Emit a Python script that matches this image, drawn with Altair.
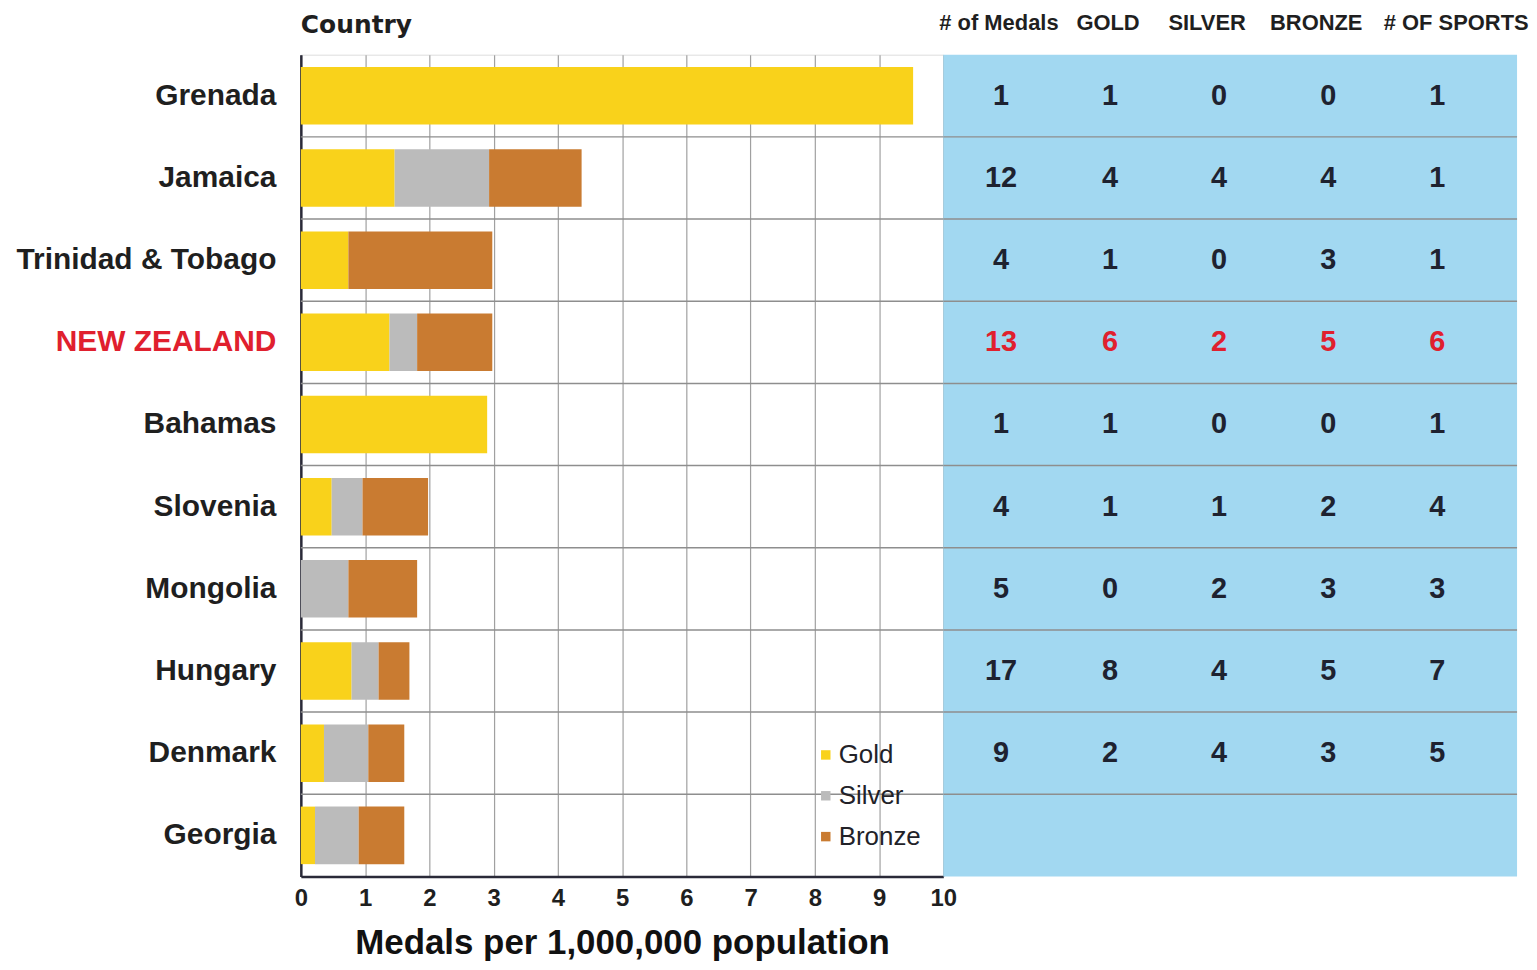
import altair as alt
import pandas as pd

# ---------------- data ----------------
countries = ["Grenada", "Jamaica", "Trinidad & Tobago", "NEW ZEALAND", "Bahamas",
             "Slovenia", "Mongolia", "Hungary", "Denmark", "Georgia"]
gold_rate = [9.53, 1.46, 0.74, 1.38, 2.90, 0.48, 0.00, 0.79, 0.36, 0.22]
silver_rate = [0.00, 1.47, 0.00, 0.43, 0.00, 0.48, 0.74, 0.42, 0.69, 0.68]
bronze_rate = [0.00, 1.44, 2.24, 1.17, 0.00, 1.02, 1.07, 0.48, 0.56, 0.71]
medals = ["Gold", "Silver", "Bronze"]
x_ticks = [0, 1, 2, 3, 4, 5, 6, 7, 8, 9, 10]

table_countries = countries[:9]
table_headers = ["# of Medals", "GOLD", "SILVER", "BRONZE", "# OF SPORTS"]
n_medals = [1, 12, 4, 13, 1, 4, 5, 17, 9]
n_gold = [1, 4, 1, 6, 1, 1, 0, 8, 2]
n_silver = [0, 4, 0, 2, 0, 1, 2, 4, 4]
n_bronze = [0, 4, 3, 5, 0, 2, 3, 5, 3]
n_sports = [1, 1, 1, 6, 1, 4, 3, 7, 5]

# ---------------- styles ----------------
medal_colors = ["#F9D21B", "#BBBBBB", "#C97B31"]
blue = "#A2D8F1"
nz_red = "#E0202E"
dark = "#1E2230"
sep_gray = "#8E8E8E"
grid_gray = "#A0A0A0"
regular = '"Liberation Sans", Arial, sans-serif'

# ---------------- tables ----------------
bar_rows = []
for i, c in enumerate(countries):
    for j, vals in enumerate([gold_rate, silver_rate, bronze_rate]):
        bar_rows.append({"country": c, "medal": medals[j], "rate": vals[i], "order": j})
bars_df = pd.DataFrame(bar_rows)

sep_df = pd.DataFrame({"country": countries[1:]})

tab_rows = []
for i, c in enumerate(table_countries):
    for h, vals in zip(table_headers, [n_medals, n_gold, n_silver, n_bronze, n_sports]):
        tab_rows.append({"country": c, "col": h, "val": vals[i]})
tab_df = pd.DataFrame(tab_rows)

row_scale = alt.Scale(domain=countries, paddingInner=0, paddingOuter=0)

# ---------------- left panel ----------------
y_left = alt.Y(
    "country:N", sort=countries, scale=row_scale,
    axis=alt.Axis(
        title=None, ticks=False, grid=False, labelPadding=25, labelLimit=500,
        labelFont=regular, labelFontSize=30, labelFontWeight="bold",
        labelColor=alt.condition("datum.value == 'NEW ZEALAND'", alt.value(nz_red), alt.value("#1f1f1f")),
        domainColor="#2A2A38", domainWidth=2.5,
    ),
)

x_left = alt.X(
    "sum(rate):Q", stack="zero",
    scale=alt.Scale(domain=[0, 10], nice=False),
    axis=alt.Axis(
        values=x_ticks, grid=True, gridColor=grid_gray, gridWidth=1.2,
        ticks=False, domainColor="#2A2A38", domainWidth=2.5,
        labelFont=regular, labelFontSize=24, labelFontWeight="bold", labelColor="#1f1f1f",
        labelPadding=10, labelFlush=False,
        title="Medals per 1,000,000 population", titleFont=regular, titleFontSize=35,
        titleFontWeight="bold", titleColor="#111111", titlePadding=15,
    ),
)

bars = alt.Chart(bars_df).mark_bar(height={"band": 0.7}).encode(
    x=x_left,
    y=y_left,
    color=alt.Color(
        "medal:N", sort=medals,
        scale=alt.Scale(domain=medals, range=medal_colors),
        legend=alt.Legend(
            title=None, orient="none", legendX=514, legendY=690,
            symbolType="square", symbolSize=90, symbolStrokeWidth=0,
            labelFont=regular, labelFontSize=26, labelColor="#222228",
            labelOffset=0, rowPadding=15, padding=0,
        ),
    ),
    order=alt.Order("order:Q"),
)

seps_left = alt.Chart(sep_df).mark_rule(color=sep_gray, strokeWidth=1.5).encode(
    y=alt.Y("country:N", sort=countries, scale=row_scale, bandPosition=0),
)

left = alt.layer(seps_left, bars).properties(
    width=645, height=825,
    title=alt.TitleParams(
        "Country", anchor="start", frame="group", font='"DejaVu Sans", sans-serif',
        fontSize=25, fontWeight="bold", color="#1f1f1f", offset=17,
    ),
)

# ---------------- right panel (table) ----------------
col_scale = alt.Scale(type="band", domain=table_headers, paddingInner=0, paddingOuter=0.13, align=0.11)

header_offset = {
    "condition": [
        {"test": "datum.value == '# OF SPORTS'", "value": 19},
        {"test": "datum.value == 'SILVER' || datum.value == 'BRONZE'", "value": -12},
    ],
    "value": -2,
}

seps_right = alt.Chart(sep_df).mark_rule(color=sep_gray, strokeWidth=1.5).encode(
    y=alt.Y("country:N", sort=countries, scale=row_scale, bandPosition=0, axis=None),
)

cells = alt.Chart(tab_df).mark_text(
    font=regular, fontSize=29, fontWeight="bold", baseline="middle", align="center"
).encode(
    x=alt.X(
        "col:N", sort=table_headers, scale=col_scale,
        axis=alt.Axis(
            orient="top", title=None, labelAngle=0, ticks=False, domain=False,
            labelFont=regular, labelFontSize=22, labelFontWeight="bold",
            labelColor="#1f1f1f", labelPadding=20, labelOffset=header_offset,
        ),
    ),
    y=alt.Y("country:N", sort=countries, scale=row_scale, axis=None),
    text=alt.Text("val:Q"),
    color=alt.condition(alt.datum.country == "NEW ZEALAND", alt.value(nz_red), alt.value(dark)),
)

right = alt.layer(seps_right, cells).properties(
    width=576, height=825,
    view=alt.ViewBackground(fill=blue, strokeWidth=0),
)

chart = (
    alt.hconcat(left, right, spacing=0, bounds="flush")
    .resolve_legend(color="independent")
    .configure_view(strokeWidth=0)
    .configure(font=regular)
    .properties(padding={"left": 7, "top": 2, "right": 0, "bottom": 0}, background="white")
)

chart.save("out.html", embed_options={"renderer": "svg", "actions": False})
